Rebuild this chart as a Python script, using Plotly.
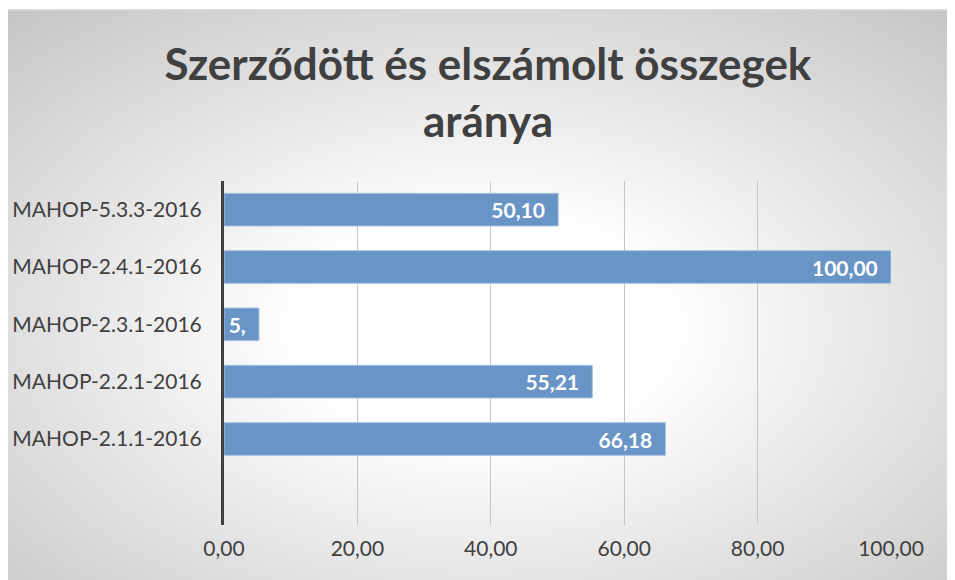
import base64
import plotly.graph_objects as go

# data (bottom to top)
projects = ["MAHOP-2.1.1-2016", "MAHOP-2.2.1-2016", "MAHOP-2.3.1-2016",
            "MAHOP-2.4.1-2016", "MAHOP-5.3.3-2016"]
ratios = [66.18, 55.21, 5.24, 100.00, 50.10]
bar_labels = ["66,18", "55,21", "5,", "100,00", "50,10"]
x_ticks = [0, 20, 40, 60, 80, 100]

# page coords of the plot area in the reference; the page body adds ~8px
OFF = 8
W, H = 955, 580
L, T = 224 - OFF, 181 - OFF
R = W - (891 - OFF)
B = H - (525 - OFF)
pw, ph = W - L - R, H - T - B


def px_x(p):
    return (p - OFF - L) / pw


def px_y(p):
    return (H - B - (p - OFF)) / ph


# radial grey background like the office chart area
svg = """<svg xmlns='http://www.w3.org/2000/svg' width='951' height='570' viewBox='0 0 951 570' preserveAspectRatio='none'>
<defs><radialGradient id='g' cx='50%' cy='55%' r='75%'>
<stop offset='0' stop-color='#ffffff'/><stop offset='0.25' stop-color='#ffffff'/>
<stop offset='1' stop-color='#c4c4c4'/></radialGradient></defs>
<rect width='951' height='570' fill='url(#g)'/></svg>"""
bg = "data:image/svg+xml;base64," + base64.b64encode(svg.encode()).decode()

fig = go.Figure(go.Bar(
    y=projects, x=ratios, orientation="h",
    marker=dict(color="#6894c6", line=dict(color="#a8c2e2", width=1)),
    text=[s + "\u00a0\u00a0" for s in bar_labels],
    textposition="inside", insidetextanchor="end", constraintext="none",
    textfont=dict(family="Lato", size=21, color="white", weight="bold"),
))

fig.add_layout_image(dict(
    source=bg, xref="paper", yref="paper",
    x=px_x(4), y=px_y(10), sizex=(W + OFF - 4) / pw, sizey=(H + OFF - 10) / ph,
    xanchor="left", yanchor="top", sizing="stretch", layer="below",
))
fig.add_shape(type="rect", xref="paper", yref="paper",
              x0=px_x(4), x1=px_x(W + OFF + 2), y0=px_y(H + OFF + 2), y1=px_y(10),
              line=dict(color="#d4d4d4", width=1.5), layer="below")

fig.update_layout(
    width=W, height=H,
    margin=dict(l=L, r=R, t=T, b=B, autoexpand=False),
    paper_bgcolor="white", plot_bgcolor="rgba(0,0,0,0)",
    separators=", ",
    bargap=0.43, showlegend=False,
    font=dict(family="Lato", color="#404040"),
    title=dict(text="Szerződött és elszámolt összegek<br>aránya",
               x=(488 - OFF) / W, xanchor="center", xref="container",
               y=1 - (80 - OFF) / H, yanchor="middle", yref="container",
               font=dict(family="Lato", size=44, color="#404040", weight="bold")),
)
fig.update_xaxes(range=[0, 100], tickvals=x_ticks, tickformat=".2f",
                 showgrid=True, gridcolor="#c6c6c6", gridwidth=1,
                 zeroline=False, showline=False, ticks="", automargin=False,
                 ticklabelstandoff=9, tickfont=dict(size=21, color="#404040"))
fig.update_yaxes(categoryorder="array", categoryarray=projects,
                 range=[-1.5, 4.5], showgrid=False, zeroline=False,
                 showline=True, linecolor="#404040", linewidth=3,
                 ticks="", ticklabelstandoff=15, automargin=False,
                 tickfont=dict(size=21, color="#404040"))

fig.write_html("out.html")
